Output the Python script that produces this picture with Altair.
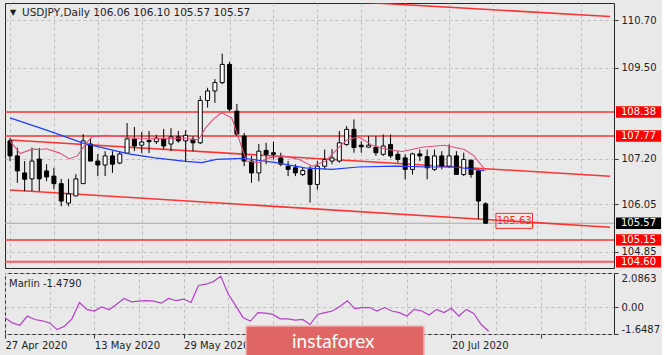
import altair as alt
import pandas as pd

# ---------------- data ----------------
opens = [107.65, 107.27, 106.84, 106.69, 107.19, 106.89, 106.76, 106.57, 106.08, 106.26,
         106.57, 107.57, 107.14, 107.04, 107.27, 107.09, 107.34, 107.70, 107.54, 107.66,
         107.63, 107.70, 107.57, 107.75, 107.65, 107.69, 107.60, 108.67, 108.91, 109.12,
         109.58, 108.40, 107.77, 107.14, 106.84, 107.41, 107.35, 107.22, 107.01, 106.97,
         106.80, 106.93, 106.55, 107.01, 107.14, 107.14, 107.56, 107.94, 107.54, 107.49,
         107.49, 107.31, 107.56, 107.31, 107.22, 106.93, 107.32, 107.25, 106.93, 107.27,
         107.01, 107.27, 106.80, 107.16, 106.89, 106.06]
highs = [107.72, 107.48, 107.14, 107.48, 107.47, 107.06, 106.97, 106.69, 106.69, 106.81,
         107.82, 107.70, 107.32, 107.39, 107.39, 107.39, 108.10, 108.00, 107.87, 107.90,
         107.80, 107.95, 107.97, 107.90, 107.92, 107.77, 108.78, 108.99, 109.21, 109.85,
         109.65, 108.58, 107.85, 107.27, 107.57, 107.60, 107.63, 107.35, 107.14, 107.06,
         106.97, 107.01, 107.14, 107.43, 107.44, 107.90, 108.02, 108.19, 107.64, 107.77,
         107.77, 107.81, 107.81, 107.39, 107.31, 107.35, 107.43, 107.43, 107.43, 107.39,
         107.56, 107.39, 107.35, 107.18, 106.93, 106.10]
lows = [107.14, 106.59, 106.38, 106.38, 106.38, 106.63, 106.43, 106.00, 106.00, 106.26,
        106.56, 107.14, 106.76, 106.76, 106.84, 107.06, 107.32, 107.39, 107.34, 107.34,
        107.57, 107.44, 107.39, 107.60, 107.14, 107.39, 107.57, 108.49, 108.61, 109.08,
        108.40, 107.77, 107.01, 106.59, 106.63, 107.06, 107.18, 107.01, 106.76, 106.76,
        106.76, 106.09, 106.42, 106.93, 107.06, 107.10, 107.52, 107.35, 107.35, 107.48,
        107.27, 107.27, 107.22, 107.10, 106.68, 106.80, 107.14, 106.68, 106.89, 106.93,
        106.97, 106.80, 106.76, 106.72, 105.67, 105.57]
closes = [107.27, 106.89, 106.68, 107.14, 106.69, 106.74, 106.57, 106.13, 106.31, 106.69,
          107.65, 107.14, 107.04, 107.27, 107.06, 107.32, 107.70, 107.52, 107.62, 107.63,
          107.72, 107.52, 107.75, 107.65, 107.79, 107.60, 108.67, 108.91, 109.12, 109.58,
          108.45, 107.82, 107.14, 106.84, 107.39, 107.31, 107.31, 107.06, 106.93, 106.84,
          106.90, 106.55, 107.01, 107.18, 107.22, 107.60, 107.94, 107.48, 107.50, 107.54,
          107.35, 107.52, 107.27, 107.18, 106.93, 107.32, 107.27, 106.97, 107.27, 107.01,
          107.27, 106.80, 107.18, 106.80, 106.13, 105.57]

# fast (pink) moving line: bar index / price
fast_idx = [0, 1.4, 3, 4.1, 5, 6.8, 8.1, 9.2, 10.3, 11.2, 13, 15.3, 17, 19.8, 22, 24, 25,
            25.8, 26.7, 27.8, 28.9, 30.3, 32.3, 33.9, 35.4, 37.2, 39.5, 41.3, 43.1, 44.9,
            46, 47.1, 47.8, 49.6, 51.6, 53.6, 56.3, 59.4, 62.1, 63.4, 64.3, 65]
fast_val = [107.65, 107.33, 107.44, 107.43, 107.45, 107.34, 107.20, 107.27, 107.56, 107.75,
            107.79, 107.76, 107.71, 107.70, 107.71, 107.72, 107.67, 107.69, 107.97, 108.20,
            108.36, 108.23, 107.14, 107.10, 107.22, 107.27, 107.18, 107.01, 107.14, 107.48,
            107.67, 107.73, 107.73, 107.53, 107.43, 107.38, 107.49, 107.54, 107.43, 107.27,
            107.06, 106.90]
# slow (blue) moving line
slow_idx = [0, 5, 9.9, 13, 16.2, 19.8, 24, 26.2, 28.2, 31.9, 36.3, 40.3, 44, 47.6, 52.7,
            57.4, 60.8, 64.8]
slow_val = [108.23, 107.92, 107.60, 107.46, 107.32, 107.22, 107.13, 107.10, 107.18, 107.21,
            107.10, 106.97, 106.93, 106.99, 107.01, 106.99, 106.99, 106.90]

# trend lines (start bar, start price, end bar, end price)
trend_i0 = [40, 0, 0]
trend_p0 = [111.235, 107.67, 106.41]
trend_i1 = [82, 82, 82]
trend_p1 = [110.79, 106.757, 105.47]

level_prices = [108.38, 107.77, 105.15, 104.60]
bid_price = 105.57
price_ticks = [110.70, 109.50, 107.20, 106.05, 104.85]
box_prices = [108.38, 107.77, 105.57, 105.15, 104.60]
box_texts = ["108.38", "107.77", "105.57", "105.15", "104.60"]
box_colors = ["#ff0000", "#ff0000", "#000000", "#ff0000", "#ff0000"]

note_price = 105.63
note_text = "105.63"
note_i0, note_i1 = 66.4, 71.4

marlin = [-0.65, -0.97, -1.11, -0.55, -0.76, -0.84, -0.97, -1.38, -1.17, -0.72,
          0.28, -0.14, -0.24, 0.01, -0.17, 0.17, 0.53, 0.32, 0.37, 0.39,
          0.36, 0.24, 0.53, 0.39, 0.49, 0.28, 1.32, 1.40, 1.56, 1.88,
          0.80, 0.09, -0.65, -0.86, -0.34, -0.37, -0.45, -0.72, -0.72, -0.80,
          -0.76, -1.07, -0.45, -0.34, -0.24, 0.03, 0.39, -0.09, -0.03, -0.03,
          -0.24, -0.03, -0.24, -0.34, -0.55, -0.14, -0.24, -0.49, -0.14, -0.34,
          -0.07, -0.55, -0.14, -0.39, -1.07, -1.479]
marlin_ticks = [2.0863, 0.0, -1.6487]
marlin_tick_text = ["2.0863", "0.00", "-1.6487"]
marlin_title = "Marlin -1.4790"

# visible date labels (the ones under the watermark are not shown in the reference)
date_tick_idx = [0, 12, 24, 60]
date_tick_text = ["27 Apr 2020", "13 May 2020", "29 May 2020", "20 Jul 2020"]
grid_idx = [0, 6, 12, 18, 24, 30, 36, 42, 48, 54, 60, 66, 72, 78]

header_text = "USDJPY,Daily\u00a0106.06\u00a0106.10\u00a0105.57\u00a0105.57"
logo_text = "instaforex"

# ---------------- styling ----------------
BG = "#e9e9e9"
FONT = "DejaVu Sans"
GRID = "#bdbdbd"
X_DOMAIN = [0, 81.85]
P_DOMAIN = [104.44, 111.13]
M_DOMAIN = [-1.6487, 2.0863]


def chain(vals, texts):
    expr = "''"
    for v, t in reversed(list(zip(vals, texts))):
        expr = f"datum.value == {v} ? '{t}' : ({expr})"
    return expr


xs = alt.Scale(domain=X_DOMAIN, nice=False, zero=False)
ps = alt.Scale(domain=P_DOMAIN, nice=False, zero=False)
ms = alt.Scale(domain=M_DOMAIN, nice=False, zero=False)

x_main_axis = alt.Axis(values=grid_idx, grid=True, gridDash=[3, 3], gridColor=GRID,
                       labels=False, ticks=False, domain=False, title=None)
x_bot_axis = alt.Axis(values=grid_idx, grid=True, gridDash=[3, 3], gridColor=GRID,
                      labelExpr=chain(date_tick_idx, date_tick_text), labelAlign="left",
                      labelFlush=False, labelOverlap=False, tickSize=4, labelPadding=2,
                      tickOpacity={"condition": {"test": "datum.value % 12 === 0", "value": 1}, "value": 0},
                      domain=False, title=None)
p_axis = alt.Axis(orient="right", values=price_ticks, format=".2f", grid=True, gridDash=[3, 3],
                  gridColor=GRID, domain=False, tickSize=4, labelPadding=3, title=None,
                  labelOverlap=False, labelFlush=False)
m_axis = alt.Axis(orient="right", values=marlin_ticks, labelExpr=chain(marlin_ticks, marlin_tick_text),
                  grid=True, gridDash=[3, 3], gridColor=GRID, domain=False, tickSize=4,
                  labelPadding=3, title=None, labelOverlap=False, labelFlush=True)


def X(field, axis=x_main_axis):
    return alt.X(f"{field}:Q", scale=xs, axis=axis)


def P(field):
    return alt.Y(f"{field}:Q", scale=ps, axis=p_axis)


n = len(opens)
candles = pd.DataFrame({"i": list(range(n)), "o": opens, "h": highs, "l": lows, "c": closes})
candles["fillc"] = ["#ffffff" if c > o else "#000000" for o, c in zip(opens, closes)]

bid = alt.Chart(pd.DataFrame({"p": [bid_price]})).mark_rule(
    color="#a9a9a9", strokeWidth=1).encode(y=P("p"))

levels = alt.Chart(pd.DataFrame({"p": level_prices})).mark_rule(
    color="#f04848", strokeWidth=2, opacity=0.85).encode(y=P("p"))

trends = alt.Chart(pd.DataFrame({"i": trend_i0, "p": trend_p0, "i2": trend_i1, "p2": trend_p1})).mark_rule(
    color="#ff2020", strokeWidth=1.6, opacity=0.9, clip=True).encode(
    x=X("i"), x2="i2:Q", y=P("p"), y2="p2:Q")

wicks = alt.Chart(candles).mark_rule(color="#000000", strokeWidth=1, clip=True).encode(
    x=X("i"), y=P("l"), y2="h:Q")

bodies = alt.Chart(candles).mark_bar(size=4, stroke="#000000", strokeWidth=1, clip=True).encode(
    x=X("i"), y=P("o"), y2="c:Q", fill=alt.Color("fillc:N", scale=None))

slow = alt.Chart(pd.DataFrame({"i": slow_idx, "p": slow_val})).mark_line(
    color="#1f3cff", strokeWidth=1.2, clip=True).encode(x=X("i"), y=P("p"))

fast = alt.Chart(pd.DataFrame({"i": fast_idx, "p": fast_val})).mark_line(
    color="#e3507c", strokeWidth=1.1, clip=True).encode(x=X("i"), y=P("p"))

note_df = pd.DataFrame({"i": [note_i0], "i2": [note_i1], "ic": [(note_i0 + note_i1) / 2],
                        "p": [note_price], "t": [note_text]})
note_box = alt.Chart(note_df).transform_calculate(
    pt="datum.p + 0.19", pb="datum.p - 0.19").mark_rect(
    fillOpacity=0, stroke="#ff2a2a", strokeWidth=1).encode(
    x=X("i"), x2="i2:Q", y=P("pt"), y2="pb:Q")
note_txt = alt.Chart(note_df).mark_text(font=FONT, fontSize=10, color="#ff2a2a",
                                        align="center", baseline="middle").encode(
    x=X("ic"), y=P("p"), text="t:N")

box_df = pd.DataFrame({"p": box_prices, "t": box_texts, "bg": box_colors})
boxes = alt.Chart(box_df).transform_calculate(
    pt="datum.p + 0.145", pb="datum.p - 0.145").mark_rect().encode(
    x=alt.value(611), x2=alt.value(656), y=P("pt"), y2="pb:Q",
    fill=alt.Color("bg:N", scale=None))
box_txt = alt.Chart(box_df).mark_text(font=FONT, fontSize=10, color="#ffffff",
                                      align="left", baseline="middle").encode(
    x=alt.value(616), y=P("p"), text="t:N")

hdr_df = pd.DataFrame({"t": [header_text]})
hdr = alt.Chart(hdr_df).mark_text(font=FONT, fontSize=10.5, color="#1e1e1e",
                                  align="left", baseline="middle").encode(
    x=alt.value(17), y=alt.value(10), text="t:N")
arrow = alt.Chart(pd.DataFrame({"t": ["\u25bc"]})).mark_text(
    font=FONT, fontSize=8, color="#1e1e1e", align="center", baseline="middle").encode(
    x=alt.value(8), y=alt.value(10), text="t:N")

main = alt.layer(bid, levels, trends, wicks, bodies, slow, fast, note_box, note_txt,
                 boxes, box_txt, hdr, arrow).properties(width=609, height=265)

# ---------------- lower panel ----------------
mdf = pd.DataFrame({"i": list(range(len(marlin))), "m": marlin})
mline = alt.Chart(mdf).mark_line(color="#b23fc6", strokeWidth=1.2, clip=True).encode(
    x=X("i", x_bot_axis), y=alt.Y("m:Q", scale=ms, axis=m_axis))
mtitle = alt.Chart(pd.DataFrame({"t": [marlin_title]})).mark_text(
    font=FONT, fontSize=10, color="#1e1e1e", align="left", baseline="middle").encode(
    x=alt.value(4), y=alt.value(11), text="t:N")
logo_box = alt.Chart(pd.DataFrame({"t": [logo_text]})).mark_rect(
    fill="#e06666", stroke="#f2b3b3", strokeWidth=1.5, cornerRadius=2).encode(
    x=alt.value(241), x2=alt.value(419), y=alt.value(53), y2=alt.value(84))
logo_txt = alt.Chart(pd.DataFrame({"t": [logo_text]})).mark_text(
    font="Lato", fontSize=19, color="#ffffff", align="left", baseline="middle").encode(
    x=alt.value(287), y=alt.value(69), text="t:N")

lower = alt.layer(mline, mtitle, logo_box, logo_txt).properties(width=609, height=61)

chart = alt.vconcat(main, lower, spacing=3).properties(
    background=BG,
    padding={"left": 3, "top": 2, "right": 0, "bottom": 0},
).configure_view(stroke="#262626", strokeWidth=1).configure_axis(
    labelFont=FONT, labelFontSize=10, labelColor="#1e1e1e", tickColor="#333333")

chart.save("out.html", embed_options={"renderer": "svg", "actions": False})
